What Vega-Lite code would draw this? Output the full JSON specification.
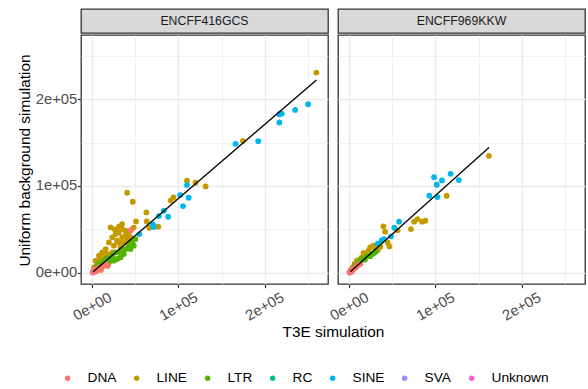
{
  "$schema": "https://vega.github.io/schema/vega-lite/v6.json",
  "padding": {"left": 16, "top": 8, "right": 0, "bottom": 0},
  "autosize": {"type": "pad"},
  "spacing": 0,
  "datasets": {
    "points": [
      {"sample": "ENCFF416GCS", "class": "RC", "t3e": 600, "uniform": 500},
      {"sample": "ENCFF416GCS", "class": "SVA", "t3e": 900, "uniform": 700},
      {"sample": "ENCFF416GCS", "class": "Unknown", "t3e": 400, "uniform": 300},
      {"sample": "ENCFF416GCS", "class": "LINE", "t3e": 260200, "uniform": 230800},
      {"sample": "ENCFF416GCS", "class": "LINE", "t3e": 174900, "uniform": 152100},
      {"sample": "ENCFF416GCS", "class": "LINE", "t3e": 131500, "uniform": 99500},
      {"sample": "ENCFF416GCS", "class": "LINE", "t3e": 119900, "uniform": 103700},
      {"sample": "ENCFF416GCS", "class": "LINE", "t3e": 109900, "uniform": 106000},
      {"sample": "ENCFF416GCS", "class": "LINE", "t3e": 94200, "uniform": 86800},
      {"sample": "ENCFF416GCS", "class": "LINE", "t3e": 91100, "uniform": 83300},
      {"sample": "ENCFF416GCS", "class": "LINE", "t3e": 66100, "uniform": 51800},
      {"sample": "ENCFF416GCS", "class": "LINE", "t3e": 76600, "uniform": 53000},
      {"sample": "ENCFF416GCS", "class": "LINE", "t3e": 62700, "uniform": 69500},
      {"sample": "ENCFF416GCS", "class": "LINE", "t3e": 63100, "uniform": 59100},
      {"sample": "ENCFF416GCS", "class": "LINE", "t3e": 50700, "uniform": 59100},
      {"sample": "ENCFF416GCS", "class": "LINE", "t3e": 46900, "uniform": 81800},
      {"sample": "ENCFF416GCS", "class": "LINE", "t3e": 40400, "uniform": 92200},
      {"sample": "ENCFF416GCS", "class": "LINE", "t3e": 21200, "uniform": 52200},
      {"sample": "ENCFF416GCS", "class": "LINE", "t3e": 34600, "uniform": 56000},
      {"sample": "ENCFF416GCS", "class": "LINE", "t3e": 11500, "uniform": 23400},
      {"sample": "ENCFF416GCS", "class": "LINE", "t3e": 15400, "uniform": 27200},
      {"sample": "ENCFF416GCS", "class": "LINE", "t3e": 19300, "uniform": 34900},
      {"sample": "ENCFF416GCS", "class": "LINE", "t3e": 23100, "uniform": 40700},
      {"sample": "ENCFF416GCS", "class": "LINE", "t3e": 27000, "uniform": 44500},
      {"sample": "ENCFF416GCS", "class": "LINE", "t3e": 30800, "uniform": 46400},
      {"sample": "ENCFF416GCS", "class": "LINE", "t3e": 34600, "uniform": 50200},
      {"sample": "ENCFF416GCS", "class": "LINE", "t3e": 38500, "uniform": 42600},
      {"sample": "ENCFF416GCS", "class": "LINE", "t3e": 28800, "uniform": 36900},
      {"sample": "ENCFF416GCS", "class": "LINE", "t3e": 36500, "uniform": 34900},
      {"sample": "ENCFF416GCS", "class": "LINE", "t3e": 42300, "uniform": 46400},
      {"sample": "ENCFF416GCS", "class": "LINE", "t3e": 25000, "uniform": 31100},
      {"sample": "ENCFF416GCS", "class": "LINE", "t3e": 32700, "uniform": 29100},
      {"sample": "ENCFF416GCS", "class": "LINE", "t3e": 7700, "uniform": 19600},
      {"sample": "ENCFF416GCS", "class": "LINE", "t3e": 3900, "uniform": 13800},
      {"sample": "ENCFF416GCS", "class": "LINE", "t3e": 17300, "uniform": 21400},
      {"sample": "ENCFF416GCS", "class": "LINE", "t3e": 40400, "uniform": 36900},
      {"sample": "ENCFF416GCS", "class": "LINE", "t3e": 44300, "uniform": 40700},
      {"sample": "ENCFF416GCS", "class": "LINE", "t3e": 23100, "uniform": 23400},
      {"sample": "ENCFF416GCS", "class": "LINE", "t3e": 30800, "uniform": 34900},
      {"sample": "ENCFF416GCS", "class": "LINE", "t3e": 9700, "uniform": 15700},
      {"sample": "ENCFF416GCS", "class": "LINE", "t3e": 13500, "uniform": 17600},
      {"sample": "ENCFF416GCS", "class": "LINE", "t3e": 34600, "uniform": 40700},
      {"sample": "ENCFF416GCS", "class": "LINE", "t3e": 38500, "uniform": 48400},
      {"sample": "ENCFF416GCS", "class": "LINE", "t3e": 2000, "uniform": 6000},
      {"sample": "ENCFF416GCS", "class": "LINE", "t3e": 5500, "uniform": 9000},
      {"sample": "ENCFF416GCS", "class": "LINE", "t3e": 48000, "uniform": 52000},
      {"sample": "ENCFF416GCS", "class": "LINE", "t3e": 26000, "uniform": 50000},
      {"sample": "ENCFF416GCS", "class": "LINE", "t3e": 31000, "uniform": 53000},
      {"sample": "ENCFF416GCS", "class": "SINE", "t3e": 250600, "uniform": 194300},
      {"sample": "ENCFF416GCS", "class": "SINE", "t3e": 235600, "uniform": 187800},
      {"sample": "ENCFF416GCS", "class": "SINE", "t3e": 219900, "uniform": 183500},
      {"sample": "ENCFF416GCS", "class": "SINE", "t3e": 217200, "uniform": 182800},
      {"sample": "ENCFF416GCS", "class": "SINE", "t3e": 217200, "uniform": 173200},
      {"sample": "ENCFF416GCS", "class": "SINE", "t3e": 192600, "uniform": 151700},
      {"sample": "ENCFF416GCS", "class": "SINE", "t3e": 166400, "uniform": 148600},
      {"sample": "ENCFF416GCS", "class": "SINE", "t3e": 109900, "uniform": 101000},
      {"sample": "ENCFF416GCS", "class": "SINE", "t3e": 111900, "uniform": 86400},
      {"sample": "ENCFF416GCS", "class": "SINE", "t3e": 105300, "uniform": 76800},
      {"sample": "ENCFF416GCS", "class": "SINE", "t3e": 101900, "uniform": 89500},
      {"sample": "ENCFF416GCS", "class": "SINE", "t3e": 88000, "uniform": 64500},
      {"sample": "ENCFF416GCS", "class": "SINE", "t3e": 83000, "uniform": 71400},
      {"sample": "ENCFF416GCS", "class": "SINE", "t3e": 77300, "uniform": 65300},
      {"sample": "ENCFF416GCS", "class": "SINE", "t3e": 70300, "uniform": 55700},
      {"sample": "ENCFF416GCS", "class": "SINE", "t3e": 71100, "uniform": 52800},
      {"sample": "ENCFF416GCS", "class": "SINE", "t3e": 54600, "uniform": 44500},
      {"sample": "ENCFF416GCS", "class": "LTR", "t3e": 3900, "uniform": 6100},
      {"sample": "ENCFF416GCS", "class": "LTR", "t3e": 7700, "uniform": 9900},
      {"sample": "ENCFF416GCS", "class": "LTR", "t3e": 11500, "uniform": 11900},
      {"sample": "ENCFF416GCS", "class": "LTR", "t3e": 15400, "uniform": 15700},
      {"sample": "ENCFF416GCS", "class": "LTR", "t3e": 19300, "uniform": 16500},
      {"sample": "ENCFF416GCS", "class": "LTR", "t3e": 23100, "uniform": 19600},
      {"sample": "ENCFF416GCS", "class": "LTR", "t3e": 27000, "uniform": 23400},
      {"sample": "ENCFF416GCS", "class": "LTR", "t3e": 30800, "uniform": 23400},
      {"sample": "ENCFF416GCS", "class": "LTR", "t3e": 34600, "uniform": 25300},
      {"sample": "ENCFF416GCS", "class": "LTR", "t3e": 38500, "uniform": 27200},
      {"sample": "ENCFF416GCS", "class": "LTR", "t3e": 42300, "uniform": 31100},
      {"sample": "ENCFF416GCS", "class": "LTR", "t3e": 46100, "uniform": 34900},
      {"sample": "ENCFF416GCS", "class": "LTR", "t3e": 50000, "uniform": 38700},
      {"sample": "ENCFF416GCS", "class": "LTR", "t3e": 19300, "uniform": 11900},
      {"sample": "ENCFF416GCS", "class": "LTR", "t3e": 25000, "uniform": 13800},
      {"sample": "ENCFF416GCS", "class": "LTR", "t3e": 32700, "uniform": 17600},
      {"sample": "ENCFF416GCS", "class": "LTR", "t3e": 9700, "uniform": 6100},
      {"sample": "ENCFF416GCS", "class": "LTR", "t3e": 44300, "uniform": 27200},
      {"sample": "ENCFF416GCS", "class": "LTR", "t3e": 36500, "uniform": 21400},
      {"sample": "ENCFF416GCS", "class": "LTR", "t3e": 17300, "uniform": 8100},
      {"sample": "ENCFF416GCS", "class": "LTR", "t3e": 28800, "uniform": 15700},
      {"sample": "ENCFF416GCS", "class": "LTR", "t3e": 48100, "uniform": 31100},
      {"sample": "ENCFF416GCS", "class": "LTR", "t3e": 2000, "uniform": 2000},
      {"sample": "ENCFF416GCS", "class": "LTR", "t3e": 5500, "uniform": 4000},
      {"sample": "ENCFF416GCS", "class": "DNA", "t3e": 500, "uniform": 400},
      {"sample": "ENCFF416GCS", "class": "DNA", "t3e": 1500, "uniform": 1000},
      {"sample": "ENCFF416GCS", "class": "DNA", "t3e": 3000, "uniform": 2500},
      {"sample": "ENCFF416GCS", "class": "DNA", "t3e": 4500, "uniform": 1500},
      {"sample": "ENCFF416GCS", "class": "DNA", "t3e": 6000, "uniform": 3500},
      {"sample": "ENCFF416GCS", "class": "DNA", "t3e": 8000, "uniform": 5500},
      {"sample": "ENCFF416GCS", "class": "DNA", "t3e": 10000, "uniform": 3000},
      {"sample": "ENCFF416GCS", "class": "DNA", "t3e": 12000, "uniform": 7000},
      {"sample": "ENCFF416GCS", "class": "DNA", "t3e": 15400, "uniform": 9900},
      {"sample": "ENCFF416GCS", "class": "DNA", "t3e": 7700, "uniform": 6100},
      {"sample": "ENCFF416GCS", "class": "DNA", "t3e": 2000, "uniform": 4000},
      {"sample": "ENCFF416GCS", "class": "DNA", "t3e": 18000, "uniform": 8000},
      {"sample": "ENCFF416GCS", "class": "DNA", "t3e": 45000, "uniform": 49200},
      {"sample": "ENCFF969KKW", "class": "RC", "t3e": 500, "uniform": 400},
      {"sample": "ENCFF969KKW", "class": "SVA", "t3e": 700, "uniform": 600},
      {"sample": "ENCFF969KKW", "class": "Unknown", "t3e": 300, "uniform": 300},
      {"sample": "ENCFF969KKW", "class": "LINE", "t3e": 162100, "uniform": 134800},
      {"sample": "ENCFF969KKW", "class": "LINE", "t3e": 113000, "uniform": 88700},
      {"sample": "ENCFF969KKW", "class": "LINE", "t3e": 71500, "uniform": 50300},
      {"sample": "ENCFF969KKW", "class": "LINE", "t3e": 75300, "uniform": 58800},
      {"sample": "ENCFF969KKW", "class": "LINE", "t3e": 79100, "uniform": 61800},
      {"sample": "ENCFF969KKW", "class": "LINE", "t3e": 84500, "uniform": 58800},
      {"sample": "ENCFF969KKW", "class": "LINE", "t3e": 88300, "uniform": 59900},
      {"sample": "ENCFF969KKW", "class": "LINE", "t3e": 56000, "uniform": 48800},
      {"sample": "ENCFF969KKW", "class": "LINE", "t3e": 39500, "uniform": 53400},
      {"sample": "ENCFF969KKW", "class": "LINE", "t3e": 41500, "uniform": 47200},
      {"sample": "ENCFF969KKW", "class": "LINE", "t3e": 44500, "uniform": 34900},
      {"sample": "ENCFF969KKW", "class": "LINE", "t3e": 46500, "uniform": 30300},
      {"sample": "ENCFF969KKW", "class": "LINE", "t3e": 24200, "uniform": 29200},
      {"sample": "ENCFF969KKW", "class": "LINE", "t3e": 28000, "uniform": 31100},
      {"sample": "ENCFF969KKW", "class": "LINE", "t3e": 22300, "uniform": 25300},
      {"sample": "ENCFF969KKW", "class": "LINE", "t3e": 16500, "uniform": 22700},
      {"sample": "ENCFF969KKW", "class": "LINE", "t3e": 14500, "uniform": 17700},
      {"sample": "ENCFF969KKW", "class": "LINE", "t3e": 8800, "uniform": 13800},
      {"sample": "ENCFF969KKW", "class": "LINE", "t3e": 6100, "uniform": 10000},
      {"sample": "ENCFF969KKW", "class": "LINE", "t3e": 33000, "uniform": 26000},
      {"sample": "ENCFF969KKW", "class": "LINE", "t3e": 19000, "uniform": 20000},
      {"sample": "ENCFF969KKW", "class": "LINE", "t3e": 12000, "uniform": 15000},
      {"sample": "ENCFF969KKW", "class": "LINE", "t3e": 4000, "uniform": 6000},
      {"sample": "ENCFF969KKW", "class": "LINE", "t3e": 36000, "uniform": 30000},
      {"sample": "ENCFF969KKW", "class": "LINE", "t3e": 30000, "uniform": 27500},
      {"sample": "ENCFF969KKW", "class": "SINE", "t3e": 98400, "uniform": 110200},
      {"sample": "ENCFF969KKW", "class": "SINE", "t3e": 101500, "uniform": 101400},
      {"sample": "ENCFF969KKW", "class": "SINE", "t3e": 107600, "uniform": 106400},
      {"sample": "ENCFF969KKW", "class": "SINE", "t3e": 117600, "uniform": 114000},
      {"sample": "ENCFF969KKW", "class": "SINE", "t3e": 127200, "uniform": 106800},
      {"sample": "ENCFF969KKW", "class": "SINE", "t3e": 92900, "uniform": 88700},
      {"sample": "ENCFF969KKW", "class": "SINE", "t3e": 102200, "uniform": 87200},
      {"sample": "ENCFF969KKW", "class": "SINE", "t3e": 57700, "uniform": 58800},
      {"sample": "ENCFF969KKW", "class": "SINE", "t3e": 52200, "uniform": 51800},
      {"sample": "ENCFF969KKW", "class": "SINE", "t3e": 48400, "uniform": 41900},
      {"sample": "ENCFF969KKW", "class": "SINE", "t3e": 37600, "uniform": 37200},
      {"sample": "ENCFF969KKW", "class": "SINE", "t3e": 33000, "uniform": 33400},
      {"sample": "ENCFF969KKW", "class": "SINE", "t3e": 40000, "uniform": 38500},
      {"sample": "ENCFF969KKW", "class": "LTR", "t3e": 14500, "uniform": 15700},
      {"sample": "ENCFF969KKW", "class": "LTR", "t3e": 20200, "uniform": 18800},
      {"sample": "ENCFF969KKW", "class": "LTR", "t3e": 26000, "uniform": 21500},
      {"sample": "ENCFF969KKW", "class": "LTR", "t3e": 30600, "uniform": 24200},
      {"sample": "ENCFF969KKW", "class": "LTR", "t3e": 10700, "uniform": 11900},
      {"sample": "ENCFF969KKW", "class": "LTR", "t3e": 6900, "uniform": 8100},
      {"sample": "ENCFF969KKW", "class": "LTR", "t3e": 3500, "uniform": 4000},
      {"sample": "ENCFF969KKW", "class": "LTR", "t3e": 18000, "uniform": 15000},
      {"sample": "ENCFF969KKW", "class": "LTR", "t3e": 24000, "uniform": 19000},
      {"sample": "ENCFF969KKW", "class": "LTR", "t3e": 28000, "uniform": 22000},
      {"sample": "ENCFF969KKW", "class": "DNA", "t3e": 300, "uniform": 200},
      {"sample": "ENCFF969KKW", "class": "DNA", "t3e": 1500, "uniform": 1200},
      {"sample": "ENCFF969KKW", "class": "DNA", "t3e": 3000, "uniform": 2800},
      {"sample": "ENCFF969KKW", "class": "DNA", "t3e": 4500, "uniform": 3500},
      {"sample": "ENCFF969KKW", "class": "DNA", "t3e": 6000, "uniform": 5000},
      {"sample": "ENCFF969KKW", "class": "DNA", "t3e": 8000, "uniform": 6500},
      {"sample": "ENCFF969KKW", "class": "DNA", "t3e": 10000, "uniform": 8500},
      {"sample": "ENCFF969KKW", "class": "DNA", "t3e": 12700, "uniform": 9900},
      {"sample": "ENCFF969KKW", "class": "DNA", "t3e": 1000, "uniform": 2500},
      {"sample": "ENCFF969KKW", "class": "DNA", "t3e": 2500, "uniform": 1000}
    ],
    "fit": [
      {"sample": "ENCFF416GCS", "t3e": 1000, "uniform": 1100},
      {"sample": "ENCFF416GCS", "t3e": 260300, "uniform": 222350},
      {"sample": "ENCFF969KKW", "t3e": 1150, "uniform": 1150},
      {"sample": "ENCFF969KKW", "t3e": 162200, "uniform": 144350}
    ]
  },
  "vconcat": [
    {
      "bounds": "flush",
      "spacing": 10,
      "hconcat": [
        {
          "data": {"values": [{"sample": "ENCFF416GCS"}]},
          "width": 247,
          "height": 24,
          "view": {"fill": "#d9d9d9", "stroke": "#333333", "strokeWidth": 1.3},
          "mark": {"type": "text", "fontSize": 12.3, "color": "#1a1a1a", "font": "Liberation Sans"},
          "encoding": {"text": {"field": "sample"}}
        },
        {
          "data": {"values": [{"sample": "ENCFF969KKW"}]},
          "width": 247,
          "height": 24,
          "view": {"fill": "#d9d9d9", "stroke": "#333333", "strokeWidth": 1.3},
          "mark": {"type": "text", "fontSize": 12.3, "color": "#1a1a1a", "font": "Liberation Sans"},
          "encoding": {"text": {"field": "sample"}}
        }
      ]
    },
    {
      "bounds": "flush",
      "spacing": 10,
      "hconcat": [
        {
          "width": 247,
          "height": 249,
          "encoding": {
            "x": {
              "field": "t3e", "type": "quantitative",
              "scale": {"domain": [-13200, 273700], "nice": false, "zero": false},
              "axis": {
                "values": [0, 50000, 100000, 150000, 200000, 250000],
                "labelExpr": "datum.value == 0 ? '0e+00' : datum.value == 100000 ? '1e+05' : datum.value == 200000 ? '2e+05' : ''",
                "labelAngle": -30, "labelAlign": "center", "labelBaseline": "middle", "labelPadding": 19,
                "title": "T3E simulation", "titleX": 252, "titleY": 52.8, "titleBaseline": "alphabetic", "titleAlign": "center", "titleAngle": 0,
                "gridWidth": {"condition": {"test": "datum.value % 100000 === 0", "value": 1.4}, "value": 0.7},
                "tickOpacity": {"condition": {"test": "datum.value % 100000 === 0", "value": 1}, "value": 0}
              }
            },
            "y": {
              "field": "uniform", "type": "quantitative",
              "scale": {"domain": [-13100, 274200], "nice": false, "zero": false},
              "axis": {
                "values": [0, 50000, 100000, 150000, 200000, 250000],
                "labelExpr": "datum.value == 0 ? '0e+00' : datum.value == 100000 ? '1e+05' : datum.value == 200000 ? '2e+05' : ''",
                "labelPadding": 0.5,
                "title": "Uniform background simulation", "titleX": -57, "titleY": 125, "titleAngle": -90, "titleAlign": "center", "titleBaseline": "middle",
                "gridWidth": {"condition": {"test": "datum.value % 100000 === 0", "value": 1.4}, "value": 0.7},
                "tickOpacity": {"condition": {"test": "datum.value % 100000 === 0", "value": 1}, "value": 0}
              }
            }
          },
          "layer": [
            {
              "data": {"name": "points"},
              "transform": [{"filter": "datum.sample === 'ENCFF416GCS'"}],
              "mark": {"type": "circle", "size": 34, "opacity": 1},
              "encoding": {
                "color": {
                  "field": "class", "type": "nominal",
                  "scale": {"domain": ["DNA", "LINE", "LTR", "RC", "SINE", "SVA", "Unknown"], "range": ["#F8766D", "#C49A00", "#53B400", "#00C094", "#00B6EB", "#A58AFF", "#FB61D7"]},
                  "legend": {"orient": "none", "direction": "horizontal", "legendX": -20.2, "legendY": 362.4, "title": null}
                }
              }
            },
            {
              "data": {"name": "fit"},
              "transform": [{"filter": "datum.sample === 'ENCFF416GCS'"}],
              "mark": {"type": "line", "color": "black", "strokeWidth": 1.3},
              "encoding": {}
            }
          ]
        },
        {
          "width": 247,
          "height": 249,
          "encoding": {
            "x": {
              "field": "t3e", "type": "quantitative",
              "scale": {"domain": [-13200, 273700], "nice": false, "zero": false},
              "axis": {
                "values": [0, 50000, 100000, 150000, 200000, 250000],
                "labelExpr": "datum.value == 0 ? '0e+00' : datum.value == 100000 ? '1e+05' : datum.value == 200000 ? '2e+05' : ''",
                "labelAngle": -30, "labelAlign": "center", "labelBaseline": "middle", "labelPadding": 19,
                "title": null,
                "gridWidth": {"condition": {"test": "datum.value % 100000 === 0", "value": 1.4}, "value": 0.7},
                "tickOpacity": {"condition": {"test": "datum.value % 100000 === 0", "value": 1}, "value": 0}
              }
            },
            "y": {
              "field": "uniform", "type": "quantitative",
              "scale": {"domain": [-13100, 274200], "nice": false, "zero": false},
              "axis": {
                "values": [0, 50000, 100000, 150000, 200000, 250000],
                "labels": false, "ticks": false, "title": null,
                "gridWidth": {"condition": {"test": "datum.value % 100000 === 0", "value": 1.4}, "value": 0.7}
              }
            }
          },
          "layer": [
            {
              "data": {"name": "points"},
              "transform": [{"filter": "datum.sample === 'ENCFF969KKW'"}],
              "mark": {"type": "circle", "size": 34, "opacity": 1},
              "encoding": {
                "color": {
                  "field": "class", "type": "nominal",
                  "scale": {"domain": ["DNA", "LINE", "LTR", "RC", "SINE", "SVA", "Unknown"], "range": ["#F8766D", "#C49A00", "#53B400", "#00C094", "#00B6EB", "#A58AFF", "#FB61D7"]},
                  "legend": {"orient": "none", "direction": "horizontal", "legendX": -20.2, "legendY": 362.4, "title": null}
                }
              }
            },
            {
              "data": {"name": "fit"},
              "transform": [{"filter": "datum.sample === 'ENCFF969KKW'"}],
              "mark": {"type": "line", "color": "black", "strokeWidth": 1.3},
              "encoding": {}
            }
          ]
        }
      ]
    }
  ],
  "config": {
    "font": "Liberation Sans",
    "view": {"stroke": "#333333", "strokeWidth": 1.3, "fill": "white"},
    "axis": {
      "domain": false, "grid": true, "gridColor": "#ebebeb",
      "tickColor": "#333333", "tickSize": 3.7, "tickWidth": 1.2,
      "labelColor": "#4d4d4d", "labelFontSize": 14.8, "labelFont": "Liberation Sans",
      "titleFont": "Liberation Sans", "titleFontSize": 15.4, "titleFontWeight": "normal", "titleColor": "black",
      "labelOverlap": false, "labelBound": false, "labelFlush": false
    },
    "legend": {
      "labelFontSize": 13.7, "labelColor": "black", "labelFont": "Liberation Sans",
      "symbolType": "circle", "symbolSize": 30, "symbolStrokeWidth": 0, "symbolOffset": 0,
      "labelOffset": 13, "columnPadding": 13, "padding": 0, "gridAlign": "none"
    }
  }
}
